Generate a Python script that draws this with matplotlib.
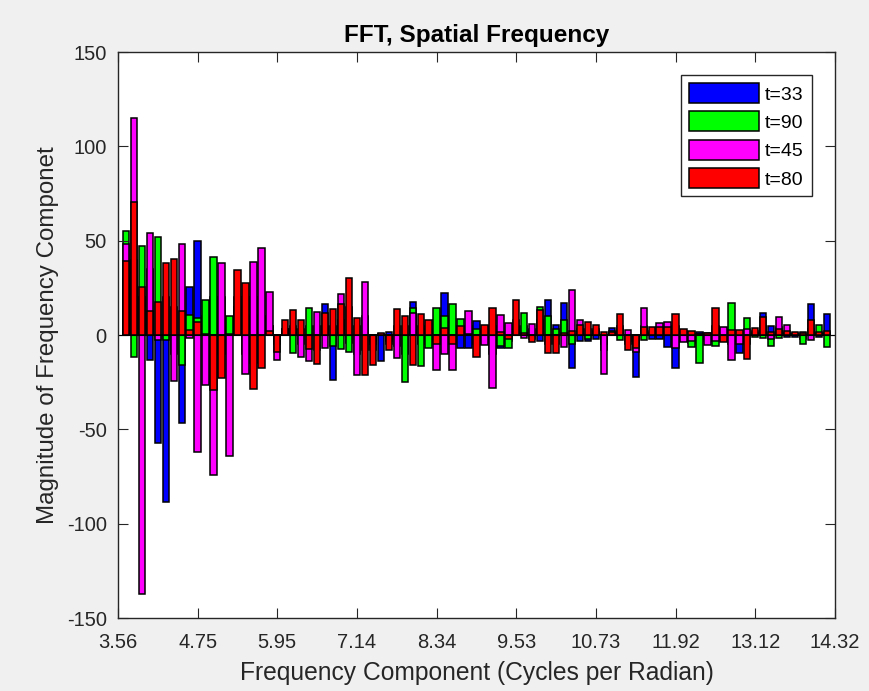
import numpy as np
import matplotlib
matplotlib.use('Agg')
import matplotlib.pyplot as plt

plt.rcParams['font.family'] = ['Liberation Sans', 'DejaVu Sans']
plt.rcParams['axes.unicode_minus'] = False

# FFT magnitudes per frequency bin (89 bins)
t33 = [30, 40, 20, -13.2, -57, -88.3, -10, -46.5, 25.6, 50,
       10, 20, -10, 5, 15, -10, -15, 10, 5, -3,
       3, 3, -5, 5, -8, 16.6, -24, 8, -4, -10,
       -8, -3, -14, 1.5, -6, -10, 17.5, -5, -3, 8,
       22.4, 5, -6.7, -7, 7.4, -3, -10, -7, -3, 2,
       5, -2, -3, 18.6, 5.3, 16.8, -17.7, -3, -3.2, -2,
       -8, 3.9, 3, -5, -22, 5, -2, -2, -6.5, -17.7,
       -2, -4, 1.8, 1, 5, -2, -5, -9.7, -5, 1,
       11.8, 4.8, 4, -1, -1, -2, 16.2, -1, 11]
t90 = [55, -11.5, 47, 35, 51.8, -2.7, 15, -16, 10.4, 8.8,
       18.5, 41.5, 20, 10.2, 10, 10, 20, 10, 5, -5,
       3, -9.4, 3, 14.5, 5, 5, -6, -7.6, -8.8, 5,
       10, -5, 0.5, -3, 5, -24.7, 14.5, -16.4, -7, 14.5,
       10, 16.6, 8.3, 5, 3, 2, 5, -5.7, -7, 5,
       11.8, 3, 15, 10, 3, 8, -5, 3, -2, 2,
       -5, 2, -2.7, -3, -4, -2.7, 1, 2, 3, 5,
       2, -6.5, -15, -3, -5.8, 2, 17.1, -3, 8.8, -1,
       -1.5, -5.8, -1.5, 1, 0.5, -4.8, 3, 5.3, -6.5]
t45 = [48, 115, -137.5, 54, -2.5, 20, -24.4, 48.2, -1.8, -62,
       -26.5, -74, 38, -64, 20, -20.7, 38.9, 46, 23, -13.3,
       3, 5, -11.7, -13.8, 12.4, -7, 5, 21.5, 15, -21.2,
       28.3, -8, 0.5, -5, -12.4, 5, 11.8, 5, 3, -18.7,
       -10.2, -18.7, 3, 13, -5, -5.3, -28.3, 10.6, 6.2, 8,
       -1.8, 5.7, 8, -5, -5, -6.2, 23.9, 8, 3, 3,
       -20.8, 1, 5, 2.7, -8.8, 14.5, 2, 6.5, 7, -7,
       -3.5, -3, 0.5, -5.3, -3, 4.4, -13.3, -5, 3, 2,
       5, -2, 9.7, 5.3, 1, 1.8, -2.7, 1, 1]
t80 = [39, 70.7, 25.6, 12.9, 17.7, 38, 40.3, 12.9, 2.6, 7,
       0.5, -29, -23, 0.5, 34.5, 27.4, -28.6, -17.7, 2, -8.8,
       8, 13.2, 7.8, -7.6, -15.5, 11.8, 13.6, 16.6, 30.4, 9.2,
       -21.2, -15.9, 1, -8, 13.6, 10, -15.9, 11, 7.8, -5,
       3.9, -5, 4.8, 0.5, -11.7, 5.3, 14.1, 1.8, -2, 18.6,
       1, -3.9, 13.3, -9.4, -9.4, 1, 2, 5.3, 7, 5.3,
       1.8, 1.5, 11, -8, -7, 4.4, 4.4, 4.4, 4.4, 11,
       3, 2, 0.5, 1, 14.1, -3.5, 2.7, 2.7, -12.9, 3.5,
       9.7, 1.8, 3, 2, 1.8, 1, 8, 1.5, 2]

series = [('t=33', t33, (0, 0, 1)), ('t=90', t90, (0, 1, 0)),
          ('t=45', t45, (1, 0, 1)), ('t=80', t80, (1, 0, 0))]

xmin, xmax = 3.56, 14.32
tick_labels = ['3.56', '4.75', '5.95', '7.14', '8.34', '9.53',
               '10.73', '11.92', '13.12', '14.32']

step = (xmax - xmin) / 90
freq = xmin + step * np.arange(1, len(t33) + 1)

fig = plt.figure(figsize=(8.7, 6.91), dpi=100, facecolor='#f0f0f0')
ax = fig.add_axes([0.1356, 0.1056, 0.8241, 0.8191])

for name, vals, col in series:
    ax.bar(freq, vals, width=0.8 * step, color=col, edgecolor='black',
           linewidth=1.1, label=name)

ax.axhline(0, color='black', linewidth=0.8)
ax.set_xlim(xmin, xmax)
ax.set_ylim(-150, 150)
ax.set_xticks(np.linspace(xmin, xmax, len(tick_labels)))
ax.set_xticklabels(tick_labels)
ax.set_yticks(np.arange(-150, 151, 50))
ax.tick_params(direction='in', length=7, top=True, right=True,
               labelsize=14.5, colors='#262626')
ax.tick_params(axis='x', pad=11)
ax.tick_params(axis='y', pad=8)
for s in ax.spines.values():
    s.set_color('#262626')
    s.set_linewidth(1.0)

ax.set_title('FFT, Spatial Frequency', fontsize=17.5, fontweight='bold', pad=7)
ax.set_xlabel('Frequency Component (Cycles per Radian)', fontsize=17.7,
              color='#262626', labelpad=6)
ax.set_ylabel('Magnitude of Frequency Componet', fontsize=17.4,
              color='#262626', labelpad=6)

leg = ax.legend(loc='upper right', fontsize=14, handlelength=3.6,
                handleheight=1.2, borderaxespad=1.2, fancybox=False,
                edgecolor='#262626', framealpha=1, labelspacing=0.4,
                handletextpad=0.3)

plt.savefig('out.png', dpi=100, facecolor=fig.get_facecolor())
